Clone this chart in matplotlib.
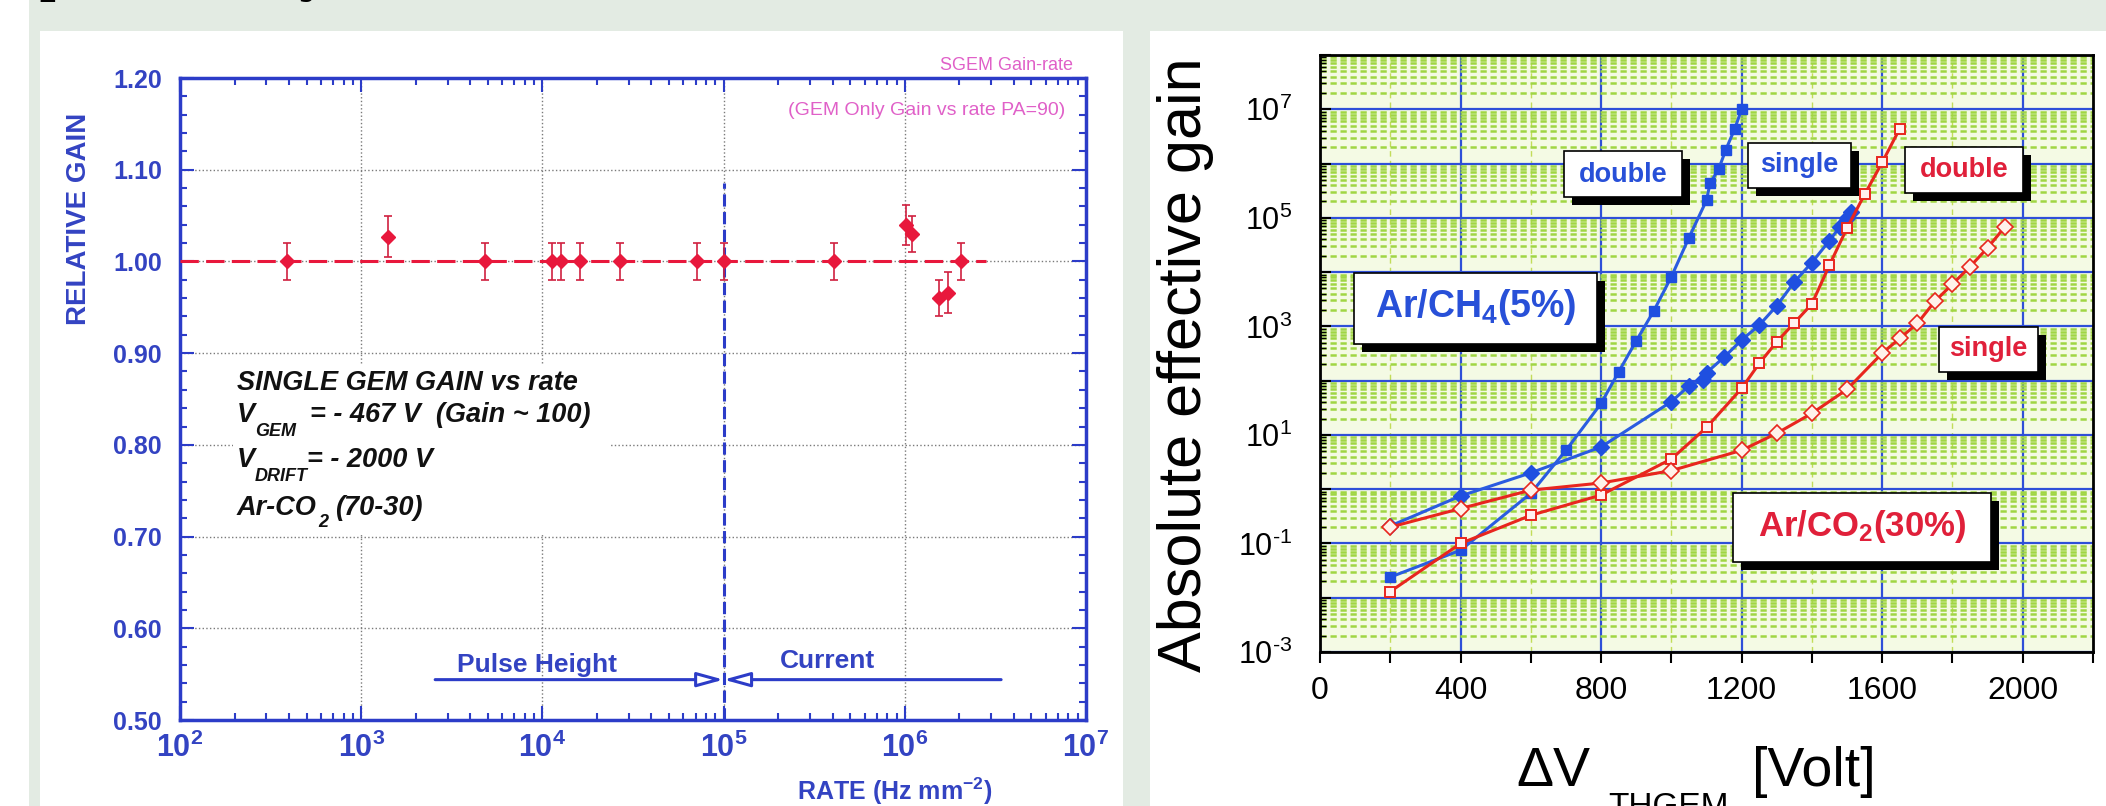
import numpy as np
import matplotlib.pyplot as plt
from matplotlib.patches import Rectangle
from matplotlib.ticker import LogLocator, MultipleLocator, NullFormatter

W, H, DPI = 2106, 806, 100

plt.rcParams['font.family'] = ['Liberation Sans', 'DejaVu Sans']
plt.rcParams['mathtext.fontset'] = 'custom'
plt.rcParams['mathtext.rm'] = 'Liberation Sans'
plt.rcParams['mathtext.bf'] = 'Liberation Sans:bold'
plt.rcParams['mathtext.it'] = 'Liberation Sans:italic'

# ---- left panel: single GEM relative gain vs rate
rate = [390, 1410, 4840, 11350, 12700, 16200, 26700, 70900,
        1.0e5, 4.07e5, 1.01e6, 1.10e6, 1.54e6, 1.74e6, 2.04e6]
rel_gain = [1.000, 1.027, 1.000, 1.000, 1.000, 1.000, 1.000, 1.000,
            1.000, 1.000, 1.040, 1.030, 0.960, 0.966, 1.000]
rel_err = [0.020, 0.022, 0.020, 0.020, 0.020, 0.020, 0.020, 0.020,
           0.020, 0.020, 0.022, 0.020, 0.020, 0.022, 0.020]
ref_gain = 1.0
ref_rate_end = 2.8e6
switch_rate = 1.0e5
switch_top = 1.085
ph_start = 2560
cur_end = 3.4e6
arrow_gain = 0.544
left_yticks = [0.50, 0.60, 0.70, 0.80, 0.90, 1.00, 1.10, 1.20]
left_xticks = [1e2, 1e3, 1e4, 1e5, 1e6, 1e7]
left_xlabels = [r'$\mathbf{10^{2}}$', r'$\mathbf{10^{3}}$', r'$\mathbf{10^{4}}$',
                r'$\mathbf{10^{5}}$', r'$\mathbf{10^{6}}$', r'$\mathbf{10^{7}}$']

# ---- right panel: THGEM absolute effective gain
v_ch4_double = [200, 400, 600, 700, 800, 850, 900, 950, 1000, 1050,
                1100, 1110, 1135, 1155, 1180, 1200]
g_ch4_double = [0.024, 0.075, 0.84, 5.2, 38, 145, 540, 1930, 8200, 4.3e4,
                2.1e5, 4.3e5, 8.0e5, 1.8e6, 4.3e6, 1.0e7]
v_ch4_single = [200, 400, 600, 800, 1000, 1050, 1090, 1100, 1150, 1200,
                1250, 1300, 1350, 1400, 1450, 1480, 1500, 1510]
g_ch4_single = [0.21, 0.75, 2.0, 6.0, 41, 80, 102, 140, 270, 560,
                1050, 2400, 6600, 1.5e4, 3.8e4, 6.9e4, 1.0e5, 1.3e5]
v_co2_double = [200, 400, 600, 800, 1000, 1100, 1200, 1250, 1300, 1350,
                1400, 1450, 1500, 1550, 1600, 1650]
g_co2_double = [0.013, 0.10, 0.33, 0.78, 3.6, 13.7, 72, 207, 520, 1160,
                2600, 1.35e4, 6.5e4, 2.7e5, 1.05e6, 4.4e6]
v_co2_single = [200, 400, 600, 800, 1000, 1200, 1300, 1400, 1500, 1600,
                1650, 1700, 1750, 1800, 1850, 1900, 1950]
g_co2_single = [0.20, 0.44, 0.96, 1.3, 2.2, 5.2, 10.7, 25, 69, 320,
                600, 1130, 2900, 6000, 1.26e4, 2.8e4, 6.9e4]
right_xticks = [0, 400, 800, 1200, 1600, 2000]
right_yticks = [1e-3, 1e-2, 1e-1, 1e0, 1e1, 1e2, 1e3, 1e4, 1e5, 1e6, 1e7, 1e8]
right_ylabels = ['$\\mathrm{10^{\u20103}}$', '', '$\\mathrm{10^{\u20101}}$', '',
                 r'$\mathrm{10^{1}}$', '', r'$\mathrm{10^{3}}$', '',
                 r'$\mathrm{10^{5}}$', '', r'$\mathrm{10^{7}}$', '']

axis_blue = '#2c3cc8'
text_blue = '#3343c2'
red = '#e8183c'
magenta = '#e060c8'
line_blue = '#2a5ce0'
line_red = '#e8261e'
grid_blue = '#2f4fd8'

fig = plt.figure(figsize=(W / DPI, H / DPI), dpi=DPI, facecolor='#e3ebe3')


def ftext(x, y, s, **kw):
    # place text in figure pixels, measured from the top-left corner
    return fig.text(x / W, 1 - y / H, s, **kw)


def frect(x0, y0, x1, y1, **kw):
    r = Rectangle((x0 / W, 1 - y1 / H), (x1 - x0) / W, (y1 - y0) / H,
                  transform=fig.transFigure, **kw)
    fig.patches.append(r)
    return r


# white slide margin and panels
frect(0, 0, 29, 806, fc='white', ec='none', zorder=-1)
frect(40, 31, 1123, 806, fc='white', ec='none', zorder=-1)
frect(1150, 31, 2106, 806, fc='white', ec='none', zorder=-1)

# cut-off slide title fragments
ftext(38, -10, 'p', family='DejaVu Serif', size=40, va='baseline')
ftext(298, -10, 'y', family='DejaVu Serif', size=40, va='baseline')

# ================= left chart =================
ax1 = fig.add_axes([180 / W, 1 - 720 / H, 906 / W, 642 / H])
ax1.set_xscale('log')
ax1.set_xlim(1e2, 1e7)
ax1.set_ylim(0.5, 1.2)
ax1.set_xticks(left_xticks, left_xlabels)
ax1.xaxis.set_minor_locator(LogLocator(base=10, subs=(2, 3, 4, 5, 6, 7, 8, 9), numticks=20))
ax1.xaxis.set_minor_formatter(NullFormatter())
ax1.set_yticks(left_yticks, ['%.2f' % v for v in left_yticks])
ax1.yaxis.set_minor_locator(MultipleLocator(0.02))
ax1.tick_params(which='both', direction='in', top=True, right=True,
                color=axis_blue, width=1.5)
ax1.tick_params(which='major', length=10)
ax1.tick_params(which='minor', length=5)
ax1.tick_params(axis='x', labelsize=22, pad=9, labelcolor=text_blue)
ax1.tick_params(axis='y', labelsize=18, pad=13, labelcolor=text_blue)
for lab in ax1.get_yticklabels():
    lab.set_fontweight('bold')
for s in ax1.spines.values():
    s.set_color(axis_blue)
    s.set_linewidth(2.5)
ax1.grid(True, which='major', ls=':', color='#7a7a7a', lw=1.0)

ax1.hlines(ref_gain, 1e2, ref_rate_end, colors=red, linestyles=(0, (6, 2.4)),
           lw=2.2, zorder=3)
ax1.vlines(switch_rate, 0.5, switch_top, colors=axis_blue,
           linestyles=(0, (4, 1.8)), lw=2.2, zorder=3)
ax1.errorbar(rate, rel_gain, yerr=rel_err, fmt='D', color=red, ms=7.5,
             ecolor='#d02040', elinewidth=1.2, capsize=3, capthick=1.2, zorder=4)

arrow_kw = dict(arrowstyle='-|>,head_length=0.8,head_width=0.22', ec=axis_blue,
                fc='white', lw=2.2, shrinkA=0, shrinkB=0, mutation_scale=20)
ax1.annotate('', xy=(switch_rate, arrow_gain), xytext=(ph_start, arrow_gain),
             arrowprops=arrow_kw)
ax1.annotate('', xy=(switch_rate, arrow_gain), xytext=(cur_end, arrow_gain),
             arrowprops=arrow_kw)

ftext(457, 672, 'Pulse Height', color=text_blue, size=19, weight='bold', va='baseline')
ftext(780, 668, 'Current', color=text_blue, size=19, weight='bold', va='baseline')
ftext(992, 800, r'RATE (Hz mm$^{\mathbf{-2}}$)', ha='right', va='baseline',
      size=18, weight='bold', color=text_blue)
ftext(79, 113, 'RELATIVE GAIN', rotation=90, ha='center', va='top', size=20,
      weight='bold', color=text_blue)
ftext(1073, 70, 'SGEM Gain-rate', ha='right', va='baseline', size=13, color=magenta)
ftext(1065, 115, '(GEM Only Gain vs rate PA=90)', ha='right', va='baseline',
      size=14, color=magenta)

# text block on white background hides the grid
frect(233, 365, 610, 535, fc='white', ec='none', zorder=1)
bi = dict(size=19.5, weight='bold', style='italic', color='#111111', va='baseline')
sub = dict(size=13, weight='bold', style='italic', color='#111111', va='baseline')
ftext(237, 390, 'SINGLE GEM GAIN vs rate', **bi)
ftext(237, 422, 'V', **bi)
ftext(255, 436, 'GEM', **sub)
ftext(310, 422, '= - 467 V  (Gain ~ 100)', **bi)
ftext(237, 467, 'V', **bi)
ftext(255, 481, 'DRIFT', **sub)
ftext(307, 467, '= - 2000 V', **bi)
ftext(237, 515, 'Ar-CO', **bi)
ftext(318, 527, '2', **sub)
ftext(335, 515, '(70-30)', **bi)

# ================= right chart =================
ax2 = fig.add_axes([1320 / W, 1 - 652 / H, 773 / W, 597 / H])
ax2.set_facecolor('#f4fae4')
ax2.set_yscale('log')
ax2.set_xlim(0, 2200)
ax2.set_ylim(1e-3, 1e8)
ax2.set_xticks(right_xticks, [str(v) for v in right_xticks])
ax2.xaxis.set_minor_locator(MultipleLocator(200))
ax2.set_yticks(right_yticks, right_ylabels)
ax2.yaxis.set_minor_locator(LogLocator(base=10, subs=(2, 3, 4, 5, 6, 7, 8, 9), numticks=30))
ax2.yaxis.set_minor_formatter(NullFormatter())
ax2.set_axisbelow(True)
ax2.grid(True, which='major', color=grid_blue, lw=1.6)
ax2.grid(True, which='minor', axis='y', color='#a0d644', ls=(0, (2.5, 1.5)), lw=1.8)
ax2.grid(True, which='minor', axis='x', color='#c2dc5a', ls=(0, (4, 3)), lw=1.0)
ax2.tick_params(axis='x', which='both', direction='out', length=8, width=1.5,
                color='black', labelsize=23, pad=9)
ax2.tick_params(axis='y', which='major', direction='in', length=8, width=1.5,
                labelsize=22, pad=20)
ax2.tick_params(axis='y', which='minor', direction='in', length=4, width=1.0)
for s in ax2.spines.values():
    s.set_color('black')
    s.set_linewidth(2)

ax2.plot(v_ch4_double, g_ch4_double, '-s', color=line_blue, mfc='#1f4fe0',
         mec='#1f4fe0', ms=7, lw=2.2, zorder=4)
ax2.plot(v_ch4_single, g_ch4_single, '-D', color=line_blue, mfc='#1f4fe0',
         mec='#1f4fe0', ms=8, lw=2.2, zorder=4)
ax2.plot(v_co2_double, g_co2_double, '-s', color=line_red, mfc='#fff0f0',
         mec=line_red, mew=1.4, ms=7, lw=2.2, zorder=4)
ax2.plot(v_co2_single, g_co2_single, '-D', color=line_red, mfc='#fff2ea',
         mec=line_red, mew=1.2, ms=8, lw=2.2, zorder=4)


def label_box(x0, y0, x1, y1, text, color, size, ty):
    frect(x0 + 8, y0 + 8, x1 + 8, y1 + 8, fc='black', ec='none', zorder=5)
    frect(x0, y0, x1, y1, fc='white', ec='black', lw=1.2, zorder=6)
    ftext((x0 + x1) / 2, ty, text, ha='center', va='baseline', color=color,
          size=size, weight='bold', zorder=7)


label_box(1564, 151, 1682, 197, 'double', '#2850d8', 19.5, 182)
label_box(1748, 143, 1851, 188, 'single', '#2850d8', 19.5, 172)
label_box(1905, 147, 2023, 193, 'double', '#e0203a', 19.5, 177)
label_box(1939, 327, 2038, 372, 'single', '#e0203a', 19.5, 356)
label_box(1354, 273, 1597, 344, r'Ar/CH$_{\mathbf{4}}$(5%)', '#2850d8', 27, 317)
label_box(1733, 493, 1991, 562, r'Ar/CO$_{\mathbf{2}}$(30%)', '#e0203a', 25, 536)

ftext(1185, 365, 'Absolute effective gain', rotation=90, ha='center', va='center', size=44)
ftext(1516, 786, '\u0394V', size=40, va='baseline')
ftext(1608, 816, 'THGEM', size=24, va='baseline')
ftext(1752, 786, '[Volt]', size=40, va='baseline')

fig.savefig('out.png', dpi=DPI, facecolor=fig.get_facecolor())
